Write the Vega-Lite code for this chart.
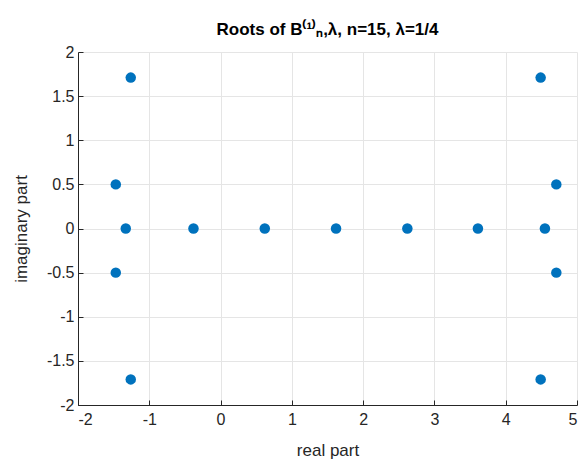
{
  "$schema": "https://vega.github.io/schema/vega-lite/v6.json",
  "autosize": "none",
  "width": 499,
  "height": 353,
  "padding": {"left": 78, "top": 52, "right": 2, "bottom": 54},
  "background": "white",
  "title": {
    "text": "Roots of B⁽¹⁾ₙ,λ, n=15, λ=1/4",
    "font": "Liberation Sans",
    "fontSize": 17,
    "fontWeight": "bold",
    "color": "#000000",
    "anchor": "middle",
    "offset": 5
  },
  "data": {
    "values": [
      {"re": -1.26, "im": 1.71},
      {"re": -1.26, "im": -1.71},
      {"re": -1.47, "im": 0.5},
      {"re": -1.47, "im": -0.5},
      {"re": -1.33, "im": 0},
      {"re": -0.38, "im": 0},
      {"re": 0.62, "im": 0},
      {"re": 1.62, "im": 0},
      {"re": 2.62, "im": 0},
      {"re": 3.61, "im": 0},
      {"re": 4.55, "im": 0},
      {"re": 4.71, "im": 0.5},
      {"re": 4.71, "im": -0.5},
      {"re": 4.49, "im": 1.71},
      {"re": 4.49, "im": -1.71}
    ]
  },
  "mark": {"type": "circle", "size": 110, "color": "#0072BD", "opacity": 1},
  "encoding": {
    "x": {
      "field": "re", "type": "quantitative",
      "scale": {"domain": [-2, 5], "nice": false, "zero": false},
      "axis": {
        "title": "real part",
        "values": [-2, -1, 0, 1, 2, 3, 4, 5],
        "labelExpr": "'' + datum.value",
        "labelPadding": 11,
        "titlePadding": 15
      }
    },
    "y": {
      "field": "im", "type": "quantitative",
      "scale": {"domain": [-2, 2], "nice": false, "zero": false},
      "axis": {
        "title": "imaginary part",
        "values": [-2, -1.5, -1, -0.5, 0, 0.5, 1, 1.5, 2],
        "labelExpr": "'' + datum.value",
        "labelPadding": 9,
        "titlePadding": 16
      }
    }
  },
  "config": {
    "view": {"stroke": null},
    "axis": {
      "labelFont": "Liberation Sans",
      "labelFontSize": 16,
      "labelColor": "#262626",
      "titleFont": "Liberation Sans",
      "titleFontSize": 17,
      "titleFontWeight": "normal",
      "titleColor": "#262626",
      "domainColor": "#262626",
      "domainWidth": 1,
      "tickColor": "#262626",
      "tickSize": -5,
      "tickWidth": 1,
      "gridColor": "#e5e5e5",
      "gridWidth": 1
    }
  }
}
